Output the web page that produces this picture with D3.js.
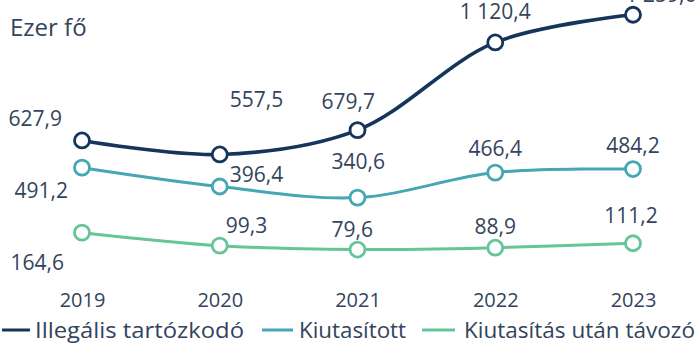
<!DOCTYPE html>
<html lang="hu">
<head>
<meta charset="utf-8">
<script src="https://cdn.jsdelivr.net/npm/d3@7"></script>
<style>
  html, body { margin: 0; padding: 0; background: #fff; }
  svg { display: block; }
  text { font-family: "Open Sans", "Noto Sans", sans-serif; fill: #33445c; }
</style>
</head>
<body>
<svg id="chart" width="700" height="348"></svg>
<script>
// Évek (kategóriák)
const years = ["2019", "2020", "2021", "2022", "2023"];

// Sorozatok, ezer főben
const illegalis = [627.9, 557.5, 679.7, 1120.4, 1259.6];
const kiutasitott = [491.2, 396.4, 340.6, 466.4, 484.2];
const tavozo = [164.6, 99.3, 79.6, 88.9, 111.2];

const seriesNames = ["Illegális tartózkodó", "Kiutasított", "Kiutasítás után távozó"];
const unitLabel = "Ezer fő";

const colors = ["#15365a", "#45a6b4", "#66c596"];

// Címkék elhelyezése a pontokhoz képest [dx, dy, anchor]
const labelPos = [
  [[-20, -14, "end"], [10, -47, "start"], [-36, -21, "start"], [0, -23, "middle"], [28, -13, "middle"]],
  [[-14, 30, "end"], [10, -5, "start"], [-26, -29, "start"], [0, -17, "middle"], [0, -16, "middle"]],
  [[-18, 37, "end"], [6, -13, "start"], [-26, -13, "start"], [0, -14, "middle"], [-2, -20, "middle"]]
];

const svg = d3.select("#chart");

const x = d3.scalePoint().domain(years).range([82, 633]);
const y = d3.scaleLinear().domain([0, 1300]).range([265.4, 6.7]);

const fmt = v => {
  const parts = v.toFixed(1).split(".");
  const int = parts[0].replace(/\B(?=(\d{3})+(?!\d))/g, "\u00a0");
  return int + "," + parts[1];
};

svg.append("text")
  .attr("x", 10).attr("y", 36)
  .attr("font-size", 24)
  .text(unitLabel);

const data = [illegalis, kiutasitott, tavozo];
const widths = [3.6, 3, 3];

const line = d3.line()
  .x((d, i) => x(years[i]))
  .y(d => y(d))
  .curve(d3.curveCatmullRom.alpha(0.5));

// Vonalak: a hátsótól előre
for (let s = data.length - 1; s >= 0; s--) {
  const g = svg.append("g");
  g.append("path")
    .datum(data[s])
    .attr("fill", "none")
    .attr("stroke", colors[s])
    .attr("stroke-width", widths[s])
    .attr("stroke-linecap", "round")
    .attr("d", line);
  g.selectAll("circle")
    .data(data[s])
    .join("circle")
    .attr("cx", (d, i) => x(years[i]))
    .attr("cy", d => y(d))
    .attr("r", 7.5)
    .attr("fill", "#fff")
    .attr("stroke", colors[s])
    .attr("stroke-width", 2.8);
  g.selectAll("text")
    .data(data[s])
    .join("text")
    .attr("x", (d, i) => x(years[i]) + labelPos[s][i][0])
    .attr("y", (d, i) => y(d) + labelPos[s][i][1])
    .attr("text-anchor", (d, i) => labelPos[s][i][2])
    .attr("font-size", 21)
    .text(d => fmt(d));
}

// Kategóriatengely (vonal nélkül)
const axis = svg.append("g")
  .attr("transform", "translate(0,300)")
  .call(d3.axisBottom(x).tickSize(0).tickPadding(0));
axis.select(".domain").remove();
axis.selectAll("text")
  .attr("font-size", 20)
  .attr("fill", "#33445c")
  .attr("font-family", "\"Open Sans\", sans-serif")
  .attr("dy", "0.35em");

// Jelmagyarázat
const legendItems = [
  { x0: 2, x1: 30, tx: 35 },
  { x0: 262, x1: 293, tx: 299 },
  { x0: 422, x1: 455, tx: 464 }
];
const legend = svg.append("g").attr("transform", "translate(0,330)");
legendItems.forEach((it, i) => {
  legend.append("line")
    .attr("x1", it.x0).attr("x2", it.x1)
    .attr("y1", 0).attr("y2", 0)
    .attr("stroke", colors[i])
    .attr("stroke-width", 3);
  legend.append("text")
    .attr("x", it.tx).attr("y", 0)
    .attr("dy", "0.35em")
    .attr("font-size", 21.5)
    .attr("textLength", [209, 107, 231][i])
    .attr("lengthAdjust", "spacingAndGlyphs")
    .text(seriesNames[i]);
});
</script>
</body>
</html>
